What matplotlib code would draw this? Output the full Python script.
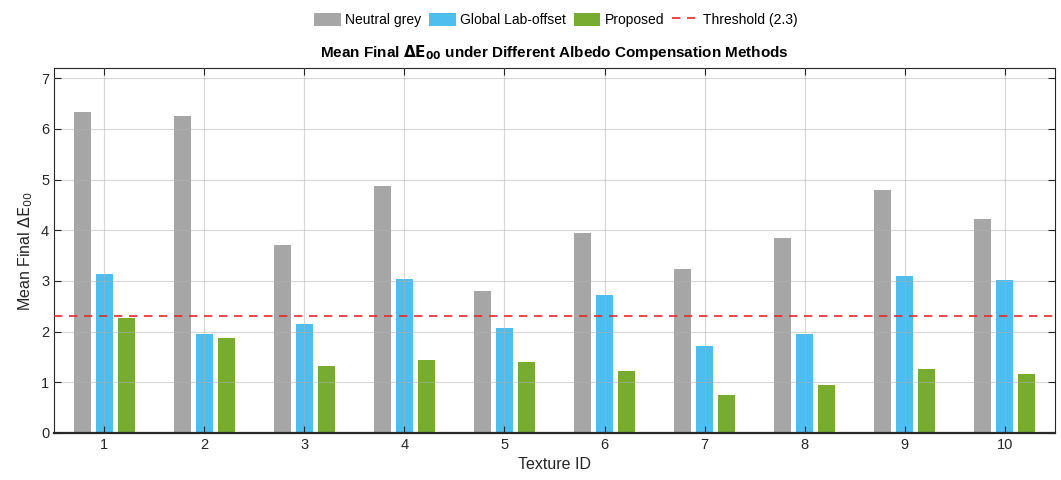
import numpy as np
import matplotlib.pyplot as plt

plt.rcParams['font.family'] = ['Liberation Sans', 'DejaVu Sans']

texture_ids = np.arange(1, 11)
neutral_grey = [6.34, 6.25, 3.70, 4.88, 2.81, 3.95, 3.24, 3.85, 4.80, 4.23]
global_lab = [3.14, 1.96, 2.15, 3.04, 2.07, 2.73, 1.72, 1.96, 3.10, 3.02]
proposed = [2.27, 1.88, 1.32, 1.44, 1.40, 1.22, 0.75, 0.95, 1.26, 1.17]
threshold = 2.3

fig = plt.figure(figsize=(10.61, 4.8), dpi=100)
ax = fig.add_axes([54/1061, 1-433/480, 1001/1061, 365/480])

w = 0.17
off = 0.22
b1 = ax.bar(texture_ids - off, neutral_grey, w, color='#a6a6a6', label='Neutral grey', zorder=1)
b2 = ax.bar(texture_ids, global_lab, w, color='#4dbeee', label='Global Lab-offset', zorder=1)
b3 = ax.bar(texture_ids + off, proposed, w, color='#77ac30', label='Proposed', zorder=1)
th = ax.axhline(threshold, color='#e8262b', ls=(0, (5, 4)), lw=1.2,
                label='Threshold (2.3)', zorder=3)

ax.set_xlim(0.5, 10.5)
ax.set_ylim(0, 7.2)
ax.set_xticks(texture_ids)
ax.set_yticks(range(8))
ax.grid(True, color='#b0b0b0', alpha=0.5, lw=0.8, zorder=2)
ax.set_axisbelow(False)
ax.tick_params(direction='in', top=True, right=True, length=5, labelsize=10.5,
               color='#262626', labelcolor='#262626')
for s in ax.spines.values():
    s.set_color('#262626')
    s.set_linewidth(0.8)
ax.spines['bottom'].set_linewidth(1.6)

ax.set_xlabel('Texture ID', fontsize=11.5, color='#262626')
ax.set_ylabel(r'Mean Final $\Delta\mathrm{E}_{00}$', fontsize=11.5, color='#262626')
ax.set_title(r'Mean Final $\mathbf{\Delta E_{00}}$ under Different Albedo Compensation Methods',
             fontsize=11, fontweight='bold', pad=8)

fig.legend([b1, b2, b3, th], ['Neutral grey', 'Global Lab-offset', 'Proposed', 'Threshold (2.3)'],
           loc='upper center', bbox_to_anchor=(0.524, 1.0), ncol=4, frameon=False,
           fontsize=10, handlelength=1.9, handleheight=1.1, handletextpad=0.3,
           columnspacing=0.6)

fig.savefig('out.png', dpi=100)
